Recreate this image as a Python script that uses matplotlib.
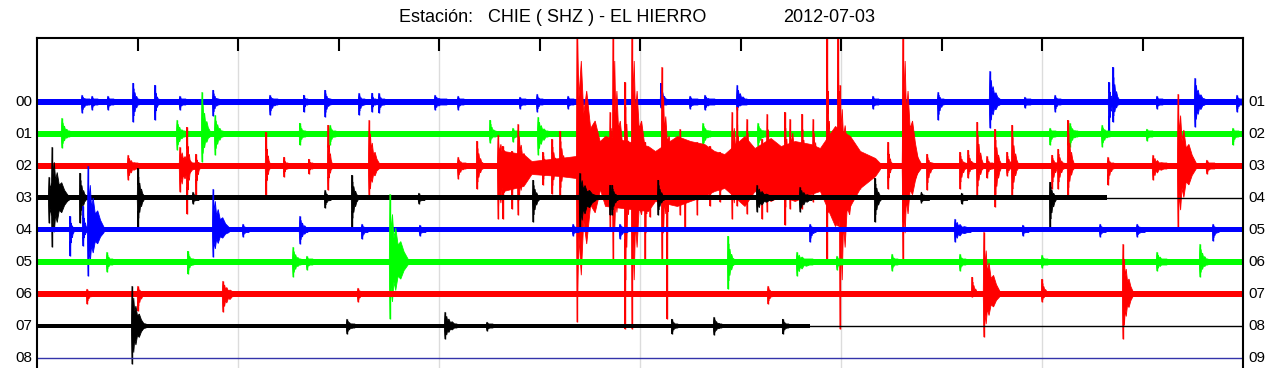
import numpy as np
import matplotlib.pyplot as plt

plt.rcParams['font.family'] = ['Liberation Sans', 'DejaVu Sans']

# helicorder CHIE (SHZ) El Hierro, 2012-07-03, one line = 60 min
# events: (minute, amplitude up, amplitude down, coda length in min), counts
labels_left = ['00', '01', '02', '03', '04', '05', '06', '07', '08']
labels_right = ['01', '02', '03', '04', '05', '06', '07', '08', '09']
noise = [3, 3, 3, 2.5, 2.5, 3, 2.5, 2, 0]
line_end = [60, 60, 60, 53.23, 60, 60, 60, 38.46, 0]

ev_00 = [(2.24, 7, 11, 0.4), (2.74, 6, 8, 0.3), (3.53, 6, 8, 0.3), (4.78, 19, 20, 0.3),
         (5.87, 17, 18, 0.2), (7.11, 6, 8, 0.3), (8.76, 12, 14, 0.3), (11.59, 7, 13, 0.4),
         (13.28, 7, 10, 0.2), (14.33, 12, 15, 0.3), (16.02, 9, 13, 0.3), (16.67, 9, 10, 0.2),
         (17.01, 9, 11, 0.3), (19.80, 7, 8, 0.6), (20.95, 6, 8, 0.3), (24.03, 5, 7, 0.3),
         (24.88, 8, 10, 0.3), (26.42, 6, 7, 0.3), (31.04, 19, 6, 0.3), (32.49, 6, 7, 0.4),
         (33.23, 7, 8, 0.5), (34.83, 17, 8, 0.5), (41.59, 6, 7, 0.3), (44.83, 10, 18, 0.3),
         (47.41, 31, 26, 0.5), (49.15, 5, 6, 0.3), (50.65, 7, 10, 0.3), (53.33, 20, 31, 0.2),
         (53.53, 35, 20, 0.3), (55.72, 6, 7, 0.3), (57.61, 24, 25, 0.5), (59.70, 7, 10, 0.3)]

ev_01 = [(1.24, 16, 14, 0.4), (6.97, 14, 16, 0.4), (8.21, 42, 28, 0.4), (8.86, 19, 21, 0.4),
         (13.08, 11, 11, 0.3), (14.58, 9, 11, 0.3), (22.54, 14, 9, 0.3), (23.68, 6, 8, 0.3),
         (24.93, 17, 21, 0.5), (33.13, 11, 13, 0.4), (35.87, 11, 13, 0.4), (50.40, 6, 11, 0.3),
         (51.39, 11, 13, 0.4), (52.99, 9, 13, 0.4), (55.22, 5, 7, 0.3), (59.50, 6, 11, 0.3)]

ev_02 = [(4.53, 11, 14, 0.5), (7.11, 19, 26, 0.8), (7.46, 39, 48, 0.2), (7.91, 12, 29, 0.2),
         (11.39, 34, 29, 0.2), (12.29, 9, 11, 0.2), (13.53, 7, 8, 0.2), (14.48, 41, 24, 0.2),
         (16.52, 46, 33, 0.5), (20.95, 9, 13, 0.4), (21.89, 25, 23, 0.3), (22.94, 31, 53, 1.0),
         (23.18, 20, 53, 0.2), (23.63, 15, 43, 0.2), (23.93, 42, 49, 0.5), (25.17, 14, 19, 0.3),
         (25.62, 27, 28, 0.3), (26.02, 35, 31, 0.3), (26.87, 150, 156, 1.5), (28.51, 54, 63, 0.6),
         (28.66, 150, 93, 0.6), (29.25, 84, 163, 0.3), (29.60, 150, 163, 0.8), (30.25, 24, 96, 0.3),
         (30.50, 14, 51, 0.3), (31.09, 99, 96, 0.6), (31.34, 20, 153, 0.1), (31.99, 37, 49, 0.5),
         (32.24, 20, 63, 0.2), (32.84, 24, 49, 0.4), (33.48, 20, 40, 0.3), (33.98, 14, 36, 0.3),
         (34.58, 54, 53, 0.8), (34.83, 59, 40, 0.2), (35.32, 47, 48, 0.4), (35.82, 15, 20, 0.3),
         (36.07, 27, 53, 0.3), (36.32, 52, 46, 0.5), (37.21, 54, 59, 0.3), (37.46, 47, 43, 1.0),
         (38.06, 52, 43, 0.3), (38.61, 47, 36, 0.4), (39.30, 150, 93, 0.2), (39.85, 150, 60, 0.2),
         (39.95, 81, 163, 0.8), (40.95, 14, 23, 0.8), (41.19, 11, 15, 0.2), (42.34, 24, 23, 0.2),
         (43.08, 150, 96, 0.8), (43.08, 67, 56, 0.9), (44.28, 12, 24, 0.3), (45.92, 14, 23, 0.3),
         (46.32, 16, 12, 0.3), (46.77, 44, 29, 0.3), (47.26, 10, 12, 0.3), (47.66, 37, 41, 0.3),
         (48.26, 14, 10, 0.3), (48.51, 41, 33, 0.3), (50.50, 11, 23, 0.3), (50.80, 17, 23, 0.3),
         (51.29, 46, 31, 0.3), (53.28, 9, 19, 0.3), (55.52, 11, 14, 0.7), (56.77, 72, 63, 0.9),
         (58.20, 6, 8, 0.4)]

# tremor envelope of the swarm on line 02: minute, up, down
swarm_t = [22.9, 23.2, 24.2, 24.6, 26.0, 26.8, 28.0, 28.26, 30.4, 30.75, 31.84, 32.5, 33.2,
           33.7, 34.2, 35.2, 35.7, 36.5, 37.0, 37.7, 38.5, 38.95, 39.7, 40.45, 40.95, 41.7, 41.94]
swarm_up = [3, 15, 12, 5, 8, 10, 25, 30, 20, 15, 30, 25, 22,
            15, 12, 30, 18, 28, 20, 25, 22, 18, 40, 30, 15, 8, 3]
swarm_dn = [3, 25, 20, 8, 10, 12, 23, 40, 45, 35, 40, 35, 30,
            25, 22, 40, 25, 35, 30, 35, 28, 25, 60, 40, 22, 10, 3]

ev_03 = [(0.60, 21, 25, 1.0), (0.75, 51, 49, 0.8), (2.14, 25, 25, 0.3), (5.02, 30, 29, 0.3),
         (7.76, 6, 6, 0.3), (14.33, 8, 10, 0.3), (15.67, 23, 29, 0.3), (19.00, 5, 6, 0.3),
         (24.68, 18, 24, 0.3), (27.01, 25, 32, 0.8), (28.51, 13, 17, 0.3), (28.61, 13, 17, 0.3),
         (30.90, 18, 17, 0.3), (35.82, 13, 14, 0.8), (37.96, 11, 14, 0.6), (41.69, 20, 24, 0.3),
         (44.00, 6, 5, 0.4), (46.00, 5, 6, 0.3), (50.40, 16, 30, 0.3)]

ev_04 = [(1.64, 14, 26, 0.2), (2.29, 24, 16, 0.2), (2.54, 64, 46, 0.8), (8.76, 41, 27, 0.8),
         (10.25, 6, 7, 0.3), (13.08, 14, 14, 0.4), (16.17, 6, 9, 0.3), (19.05, 5, 6, 0.3),
         (26.67, 6, 6, 0.3), (29.00, 6, 9, 0.4), (38.46, 6, 12, 0.3), (45.67, 11, 12, 0.8),
         (49.05, 5, 6, 0.3), (52.89, 6, 7, 0.3), (54.73, 6, 7, 0.4), (58.51, 6, 11, 0.3)]

ev_05 = [(3.48, 10, 10, 0.3), (7.51, 11, 12, 0.3), (12.74, 15, 15, 0.4), (13.43, 6, 8, 0.3),
         (17.56, 68, 57, 0.9), (34.38, 26, 27, 0.3), (37.81, 10, 14, 0.8), (39.80, 6, 8, 0.3),
         (42.54, 8, 9, 0.3), (45.92, 8, 9, 0.3), (50.00, 7, 6, 0.3), (55.72, 10, 9, 0.5),
         (57.86, 18, 15, 0.4)]

ev_06 = [(2.49, 5, 10, 0.3), (5.02, 8, 17, 0.3), (9.25, 13, 18, 0.6), (15.97, 6, 8, 0.3),
         (36.37, 8, 10, 0.3), (46.52, 17, 3, 0.3), (47.11, 62, 43, 0.8), (50.00, 15, 8, 0.3),
         (54.03, 50, 45, 0.5)]

ev_07 = [(4.73, 40, 38, 0.6), (4.83, 15, 16, 0.6), (15.42, 7, 8, 0.4), (20.30, 14, 13, 0.6),
         (22.39, 4, 5, 0.3), (31.59, 7, 8, 0.3), (33.68, 9, 9, 0.4), (37.11, 7, 8, 0.3)]

ev_08 = []

events = [ev_00, ev_01, ev_02, ev_03, ev_04, ev_05, ev_06, ev_07, ev_08]
colors = ['#0000ff', '#00ff00', '#ff0000', '#000000'] * 2 + ['#3333aa']
gain = 1 / 32.0   # counts -> line spacing

# drawing template for one event: position along coda, fraction of peak
coda_pos = np.array([0, 0.06, 0.14, 0.22, 0.32, 0.45, 0.6, 0.78, 1.0])
coda_amp = np.array([1.0, 0.45, 0.7, 0.35, 0.5, 0.25, 0.3, 0.15, 0.0])

fig = plt.figure(figsize=(12.8, 3.68), dpi=100)
ax = fig.add_axes([37 / 1280, 1 - 390 / 368, 1206 / 1280, 352 / 368])
ax.set_xlim(0, 60)
ax.set_ylim(-9, 2)

for xg in range(10, 60, 10):
    ax.axvline(xg, color='#dcdcdc', lw=1, zorder=0)

for i in range(len(labels_left)):
    base = -i
    c = colors[i]
    z = 2 + i
    n = noise[i]
    end = line_end[i]
    if end > 0:
        ax.fill_between([0, end], base - n * gain, base + n * gain, color=c, lw=0, zorder=z)
    if end < 60:
        ax.plot([end, 60], [base, base], color=c, lw=1, zorder=z)
    if i == 2:
        ax.fill_between(swarm_t, base - np.array(swarm_dn) * gain, base + np.array(swarm_up) * gain,
                        color=c, lw=0.5, zorder=z)
    for t, up, dn, dur in events[i]:
        xs = t + coda_pos * dur
        top = base + np.maximum(coda_amp * up, n) * gain
        bot = base - np.maximum(coda_amp * dn, n) * gain
        ax.fill(np.concatenate([[t - 0.03], xs, xs[::-1], [t - 0.03]]),
                np.concatenate([[base + n * gain], top, bot[::-1], [base - n * gain]]),
                color=c, lw=0.6, zorder=z)
        ax.vlines(t, base - dn * gain, base + up * gain, color=c, lw=1.0, zorder=z)
    ax.text(-0.25, base, labels_left[i], ha='right', va='center', fontsize=11, clip_on=False)
    ax.text(60.25, base, labels_right[i], ha='left', va='center', fontsize=11, clip_on=False)

ax.set_xticks(np.arange(5, 60, 5))
ax.set_yticks([])
ax.tick_params(axis='x', direction='in', length=9, width=1.5, top=True, bottom=True,
               labeltop=False, labelbottom=False)
for s in ax.spines.values():
    s.set_linewidth(1.5)
    s.set_zorder(20)

fig.text(399 / 1280, 1 - 18 / 368, 'Estación:   CHIE ( SHZ ) - EL HIERRO', ha='left', va='center', fontsize=13)
fig.text(783 / 1280, 1 - 18 / 368, '2012-07-03', ha='left', va='center', fontsize=13)

fig.savefig('out.png', dpi=100)
